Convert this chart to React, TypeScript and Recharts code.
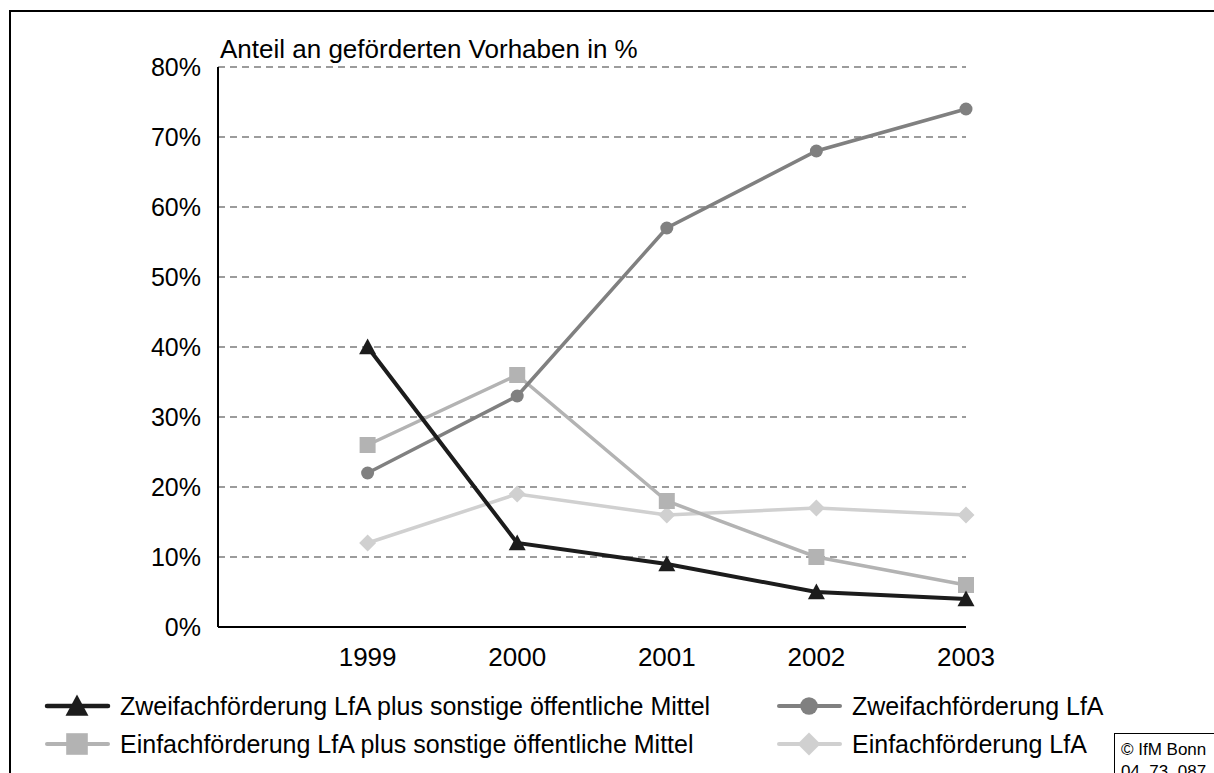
import React from 'react';
import { LineChart, Line, XAxis, YAxis, CartesianGrid } from 'recharts';

// values (share of funded projects, %)
const years = [1999, 2000, 2001, 2002, 2003];
const zweifachPlus = [40, 12, 9, 5, 4];
const zweifachLfa = [22, 33, 57, 68, 74];
const einfachPlus = [26, 36, 18, 10, 6];
const einfachLfa = [12, 19, 16, 17, 16];
const yTicks = [0, 10, 20, 30, 40, 50, 60, 70, 80];

const FONT = '"Liberation Sans", Arial, sans-serif';

type Shape = 'triangle' | 'circle' | 'square' | 'diamond';

interface Series {
  key: string;
  name: string;
  color: string;
  shape: Shape;
  width: number;
}

const sZweifachPlus: Series = { key: 'zp', name: 'Zweifachförderung LfA plus sonstige öffentliche Mittel', color: '#1c1c1c', shape: 'triangle', width: 4 };
const sZweifachLfa: Series = { key: 'zl', name: 'Zweifachförderung LfA', color: '#808080', shape: 'circle', width: 3.5 };
const sEinfachPlus: Series = { key: 'ep', name: 'Einfachförderung LfA plus sonstige öffentliche Mittel', color: '#b3b3b3', shape: 'square', width: 3.5 };
const sEinfachLfa: Series = { key: 'el', name: 'Einfachförderung LfA', color: '#d0d0d0', shape: 'diamond', width: 3.5 };

// drawing order: lighter lines first, black on top
const drawOrder = [sEinfachLfa, sEinfachPlus, sZweifachLfa, sZweifachPlus];

const data = years.map((year, i) => ({
  year,
  zp: zweifachPlus[i],
  zl: zweifachLfa[i],
  ep: einfachPlus[i],
  el: einfachLfa[i],
}));

const Marker = ({ shape, cx, cy, color, k = 1 }: { shape: Shape; cx: number; cy: number; color: string; k?: number }) => {
  if (shape === 'triangle') {
    const h = 8.5 * k;
    return <polygon points={`${cx},${cy - h} ${cx - h},${cy + h * 0.85} ${cx + h},${cy + h * 0.85}`} fill={color} />;
  }
  if (shape === 'square') {
    const h = 8 * k;
    return <rect x={cx - h} y={cy - h} width={h * 2} height={h * 2} fill={color} />;
  }
  if (shape === 'diamond') {
    const h = 8.5 * k;
    return <polygon points={`${cx},${cy - h} ${cx + h},${cy} ${cx},${cy + h} ${cx - h},${cy}`} fill={color} />;
  }
  return <circle cx={cx} cy={cy} r={6.5 * k} fill={color} />;
};

const LegendItem = ({ s, x, y }: { s: Series; x: number; y: number }) => (
  <g>
    <line x1={x} y1={y} x2={x + 61} y2={y} stroke={s.color} strokeWidth={s.width + 0.5} strokeLinecap="round" />
    <Marker shape={s.shape} cx={x + 30} cy={y} color={s.color} k={1.35} />
    <text x={x + 73} y={y + 9} fontSize={25} fontFamily={FONT} fill="#000">{s.name}</text>
  </g>
);

export default function App() {
  return (
    <div style={{ position: 'absolute', left: 0, top: 0, width: 1214, height: 773, overflow: 'hidden', background: '#fff' }}>
      <div style={{ position: 'absolute', left: 0, top: 0 }}>
        <LineChart width={1214} height={773} data={data} margin={{ top: 67, right: 248, left: 0, bottom: 106 }}>
          <CartesianGrid horizontal vertical={false} stroke="#3a3a3a" strokeWidth={1.2} strokeDasharray="7 5" />
          <XAxis
            dataKey="year"
            type="number"
            domain={[1998, 2003]}
            ticks={years}
            height={40}
            axisLine={{ stroke: '#000', strokeWidth: 2 }}
            tickLine={false}
            tickSize={0}
            tickMargin={21}
            tick={{ fontSize: 26, fill: '#000', fontFamily: FONT }}
          />
          <YAxis
            domain={[0, 80]}
            ticks={yTicks}
            width={218}
            axisLine={{ stroke: '#000', strokeWidth: 2 }}
            tickLine={false}
            tickSize={0}
            tickMargin={17}
            tickFormatter={(v: number) => `${v}%`}
            tick={{ fontSize: 25, fill: '#000', fontFamily: FONT }}
          />
          {drawOrder.map((s) => (
            <Line
              key={s.key}
              dataKey={s.key}
              name={s.name}
              stroke={s.color}
              strokeWidth={s.width}
              isAnimationActive={false}
              dot={(p: any) => <Marker key={`${s.key}-${p.index}`} shape={s.shape} cx={p.cx} cy={p.cy} color={s.color} />}
              activeDot={false}
            />
          ))}
        </LineChart>
      </div>
      <svg width={1214} height={773} style={{ position: 'absolute', left: 0, top: 0, pointerEvents: 'none' }}>
        <rect x={10} y={11} width={1400} height={1000} fill="none" stroke="#000" strokeWidth={2} />
        <text x={220} y={58} fontSize={26} fontFamily={FONT} fill="#000">Anteil an geförderten Vorhaben in %</text>
        <LegendItem s={sZweifachPlus} x={47} y={706} />
        <LegendItem s={sZweifachLfa} x={779} y={706} />
        <LegendItem s={sEinfachPlus} x={47} y={744} />
        <LegendItem s={sEinfachLfa} x={779} y={744} />
        <rect x={1114.5} y={733.5} width={200} height={100} fill="#fff" stroke="#000" strokeWidth={1} />
        <text x={1121} y={755} fontSize={17} fontFamily={FONT} fill="#000">© IfM Bonn</text>
        <text x={1121} y={777} fontSize={17} fontFamily={FONT} fill="#000">04_73_087</text>
      </svg>
    </div>
  );
}
